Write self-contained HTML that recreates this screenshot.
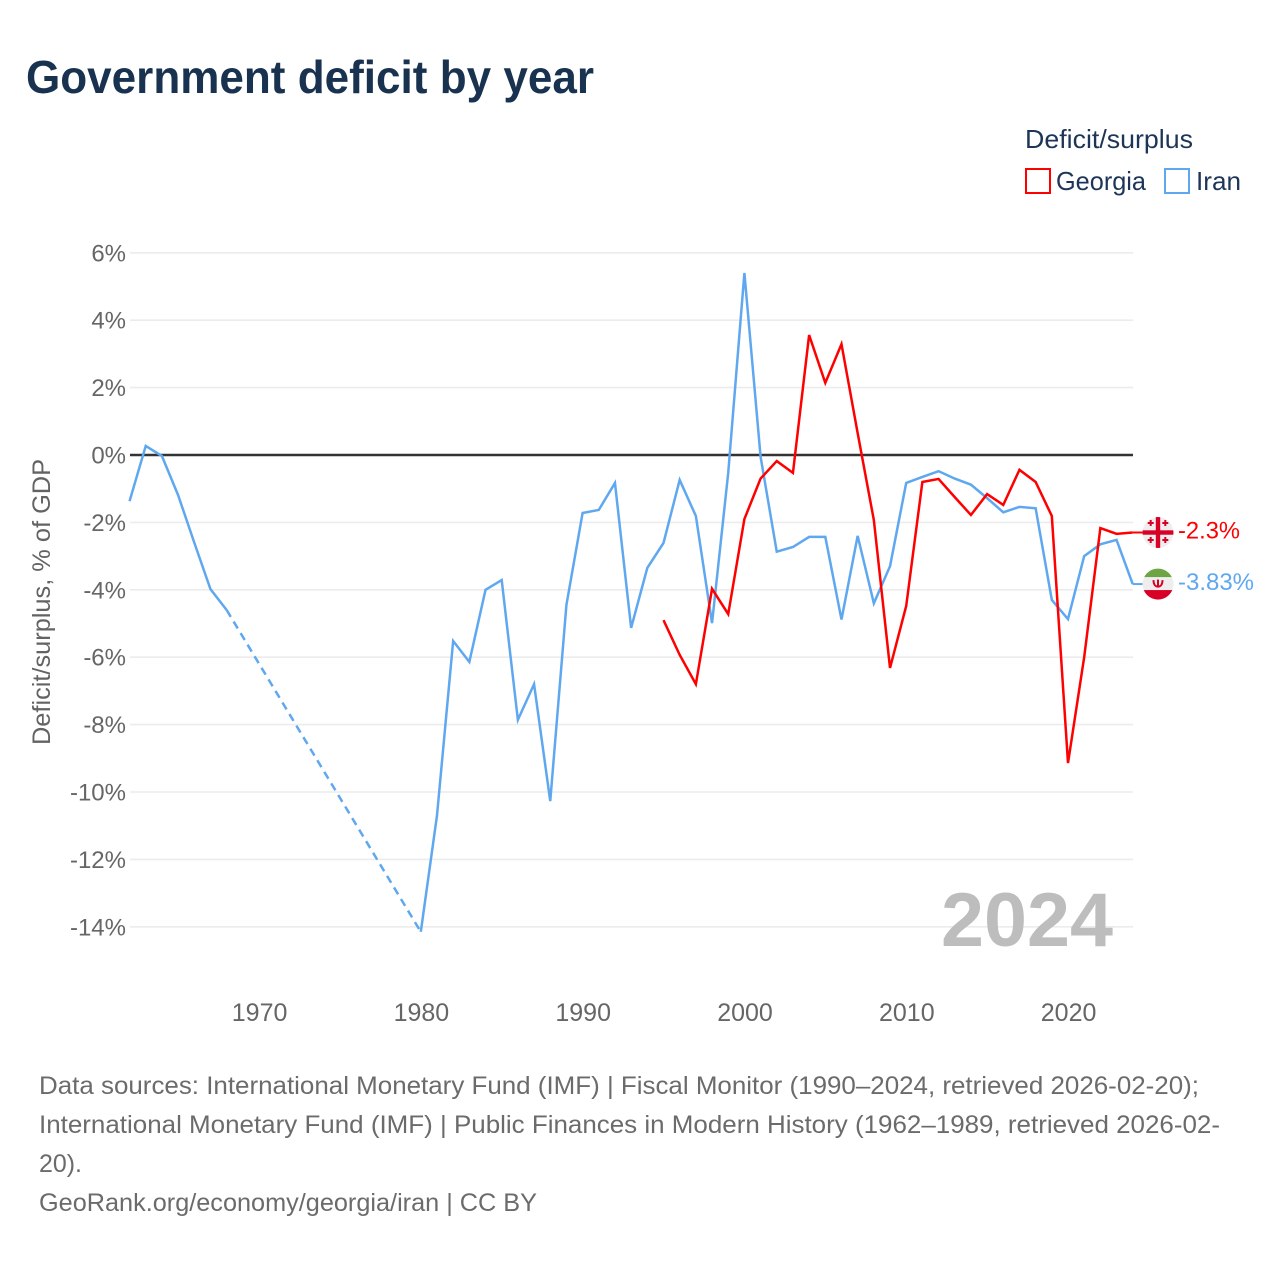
<!DOCTYPE html>
<html lang="en">
<head>
<meta charset="utf-8">
<title>Government deficit by year</title>
<style>
html,body{margin:0;padding:0;background:#fff;}
svg{display:block;font-family:"Liberation Sans",sans-serif;}
</style>
</head>
<body>
<svg id="chart" xmlns="http://www.w3.org/2000/svg" width="1280" height="1280" viewBox="0 0 1280 1280">
  <rect width="1280" height="1280" fill="#fff"/>
  <text x="26" y="93" font-size="46" font-weight="700" fill="#18324f" textLength="568" lengthAdjust="spacingAndGlyphs">Government deficit by year</text>

  <text x="1025" y="148" font-size="26" fill="#1d3557" textLength="168" lengthAdjust="spacingAndGlyphs">Deficit/surplus</text>
  <rect x="1026" y="169" width="24" height="24" fill="none" stroke="#ff0000" stroke-width="2"/>
  <text x="1056" y="190" font-size="26" fill="#1d3557" textLength="90" lengthAdjust="spacingAndGlyphs">Georgia</text>
  <rect x="1165" y="169" width="24" height="24" fill="none" stroke="#5fa8f0" stroke-width="2"/>
  <text x="1196" y="190" font-size="26" fill="#1d3557" textLength="45" lengthAdjust="spacingAndGlyphs">Iran</text>

  <text transform="translate(50,602) rotate(-90)" text-anchor="middle" font-size="25" fill="#636363" textLength="286" lengthAdjust="spacingAndGlyphs">Deficit/surplus, % of GDP</text>

  <g id="grid"></g>
  <g id="yticks"></g>
  <g id="xticks"></g>

  <text x="941" y="946" font-size="76" font-weight="700" fill="#bdbdbd" textLength="172" lengthAdjust="spacingAndGlyphs">2024</text>

  <g id="series"></g>

  <defs>
    <clipPath id="clip-flag"><circle cx="0" cy="0" r="15.5"/></clipPath>
  </defs>
  <g id="flag-georgia">
    <g clip-path="url(#clip-flag)">
      <rect x="-16" y="-16" width="32" height="32" fill="#eeeeee"/>
      <rect x="-16" y="-2.2" width="32" height="4.4" fill="#d80027"/>
      <rect x="-2.2" y="-16" width="4.4" height="32" fill="#d80027"/>
      <path d="M-10.3-8.500h6v-2h-6zM4.300-8.500h6v-2h-6zM-10.300 8.500h6v-2h-6zM4.300 8.500h6v-2h-6z" fill="#d80027"/>
      <path d="M-8.300-6.500h2v-6h-2zM6.300-6.500h2v-6h-2zM-8.300 10.500h2v-6h-2zM6.300 10.500h2v-6h-2z" fill="#d80027"/>
    </g>
  </g>
  <g id="flag-iran">
    <g clip-path="url(#clip-flag)">
      <rect x="-16" y="-16" width="32" height="32" fill="#eeeeee"/>
      <rect x="-16" y="-16" width="32" height="9" fill="#6da544"/>
      <rect x="-16" y="6" width="32" height="11" fill="#d80027"/>
      <path d="M-4.500-4c0 4.500 2 6.500 4.500 6.500s4.500-2 4.500-6.500" fill="none" stroke="#d80027" stroke-width="2"/>
      <rect x="-1" y="-4.500" width="2" height="7" fill="#d80027"/>
    </g>
  </g>
  <text id="label-georgia" x="1178" font-size="24" fill="#ff0000" textLength="62" lengthAdjust="spacingAndGlyphs">-2.3%</text>
  <text id="label-iran" x="1178" font-size="24" fill="#5fa8f0" textLength="76" lengthAdjust="spacingAndGlyphs">-3.83%</text>

  <g font-size="25" fill="#6b6b6b">
    <text x="39" y="1094" textLength="1160" lengthAdjust="spacingAndGlyphs">Data sources: International Monetary Fund (IMF) | Fiscal Monitor (1990–2024, retrieved 2026-02-20);</text>
    <text x="39" y="1133" textLength="1181" lengthAdjust="spacingAndGlyphs">International Monetary Fund (IMF) | Public Finances in Modern History (1962–1989, retrieved 2026-02-</text>
    <text x="39" y="1172" textLength="43" lengthAdjust="spacingAndGlyphs">20).</text>
    <text x="39" y="1211" textLength="498" lengthAdjust="spacingAndGlyphs">GeoRank.org/economy/georgia/iran | CC BY</text>
  </g>
</svg>
<script>
const yTickValues = [6, 4, 2, 0, -2, -4, -6, -8, -10, -12, -14];
const xTickYears = [1970, 1980, 1990, 2000, 2010, 2020];
const georgiaStartYear = 1995;
const georgiaValues = [-4.9, -5.93, -6.8, -3.97, -4.72, -1.9, -0.7, -0.18, -0.53, 3.56, 2.14, 3.29, 0.65, -1.93, -6.32, -4.48, -0.8, -0.71, -1.25, -1.78, -1.16, -1.48, -0.44, -0.8, -1.81, -9.14, -6.0, -2.17, -2.34, -2.3];
const iranStartYear = 1962;
const iranValues = [-1.37, 0.27, -0.03, -1.19, -2.6, -3.98, -4.6, null, null, null, null, null, null, null, null, null, null, null, -14.15, -10.7, -5.52, -6.14, -4.0, -3.71, -7.86, -6.8, -10.27, -4.45, -1.72, -1.63, -0.83, -5.13, -3.35, -2.61, -0.74, -1.81, -4.99, -0.53, 5.4, -0.05, -2.87, -2.73, -2.43, -2.43, -4.88, -2.4, -4.4, -3.3, -0.83, -0.65, -0.48, -0.7, -0.88, -1.28, -1.7, -1.54, -1.58, -4.3, -4.87, -3.0, -2.65, -2.52, -3.83];

const NS = 'http://www.w3.org/2000/svg';
const xScale = function (year) { return 744.4 + (year - 2000) * 16.18; };
const yScale = function (value) { return 455 - value * 33.7; };
const PLOT_LEFT = 130;
const PLOT_RIGHT = 1133;

function make(tag, attrs, parent) {
  const el = document.createElementNS(NS, tag);
  Object.keys(attrs).forEach(function (k) { el.setAttribute(k, attrs[k]); });
  parent.appendChild(el);
  return el;
}

const gridG = document.getElementById('grid');
const yG = document.getElementById('yticks');
const xG = document.getElementById('xticks');
const seriesG = document.getElementById('series');

yTickValues.forEach(function (v) {
  const isZero = v === 0;
  const line = make('line', {
    x1: PLOT_LEFT, x2: PLOT_RIGHT, y1: yScale(v), y2: yScale(v),
    stroke: isZero ? '#333333' : '#ececec',
    'stroke-width': isZero ? 2.5 : 1.6
  }, isZero ? seriesG : gridG);
  
  
  const t = make('text', {
    x: 126, y: yScale(v) + 8.5, 'text-anchor': 'end', 'font-size': 24, fill: '#666666'
  }, yG);
  t.textContent = v + '%';
  
  
});

xTickYears.forEach(function (yr) {
  const t = make('text', {
    x: xScale(yr) + 0.6, y: 1021, 'text-anchor': 'middle', 'font-size': 25, fill: '#666666'
  }, xG);
  t.textContent = String(yr);
  
  
});

function drawSeries(name, startYear, values, color, flagId, labelId) {
  let segment = [];
  let previous = null;
  const flush = function () {
    if (segment.length > 1) {
      const path = make('polyline', {
        points: segment.join(' '), fill: 'none', stroke: color,
        'stroke-width': 2.5, 'stroke-linejoin': 'miter'
      }, seriesG);
      
      
    }
    segment = [];
  };
  values.forEach(function (v, i) {
    const yr = startYear + i;
    if (v === null) {
      flush();
      return;
    }
    const pt = xScale(yr) + ',' + yScale(v);
    if (previous && previous.index !== i - 1) {
      const dash = make('line', {
        x1: xScale(previous.year), y1: yScale(previous.value),
        x2: xScale(yr), y2: yScale(v),
        stroke: color, 'stroke-width': 2.5, 'stroke-dasharray': '8 5.5'
      }, seriesG);
      
      
    }
    segment.push(pt);
    previous = { index: i, year: yr, value: v };
  });
  flush();
  const endX = xScale(previous.year);
  const endY = yScale(previous.value);
  const connector = make('line', {
    x1: endX, y1: endY, x2: 1143, y2: endY, stroke: color, 'stroke-width': 2
  }, seriesG);
  
  
  document.getElementById(flagId).setAttribute('transform', 'translate(1158,' + endY + ')');
  const label = document.getElementById(labelId);
  label.setAttribute('y', endY + 6);
  label.textContent = previous.value + '%';
}

drawSeries('iran', iranStartYear, iranValues, '#5fa8f0', 'flag-iran', 'label-iran');
drawSeries('georgia', georgiaStartYear, georgiaValues, '#ff0000', 'flag-georgia', 'label-georgia');
</script>
</body>
</html>
